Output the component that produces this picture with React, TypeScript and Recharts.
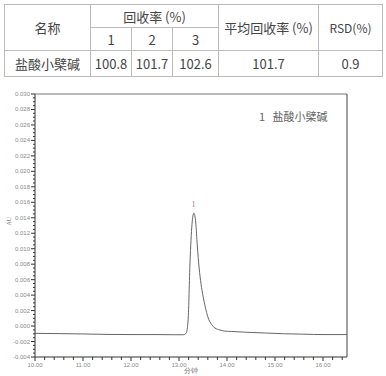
import React from 'react';
import { LineChart, Line, XAxis, YAxis, ReferenceLine, ReferenceDot, Label } from 'recharts';

// recovery table
const sampleName = '盐酸小檗碱';
const recoveries = ['100.8', '101.7', '102.6'];
const meanRecovery = '101.7';
const rsd = '0.9';

// chromatogram, retention time (min) vs absorbance (AU)
const times = [
  10.0, 10.5, 11.0, 11.5, 12.0, 12.5, 12.9, 13.1, 13.15, 13.19, 13.23, 13.27, 13.31, 13.35, 13.38,
  13.42, 13.46, 13.5, 13.55, 13.6, 13.68, 13.75, 13.85, 13.95, 14.1, 14.4, 14.8, 15.2, 15.6, 16.0, 16.5,
];
const absorbance = [
  -0.00094, -0.00098, -0.00102, -0.00108, -0.0011, -0.0011, -0.00112, -0.00112, -0.0009, 0.0008,
  0.0083, 0.0131, 0.0146, 0.0133, 0.0105, 0.0075, 0.0054, 0.0039, 0.0024, 0.0012, 0.0002, -0.00026,
  -0.0005, -0.00065, -0.0007, -0.0008, -0.0009, -0.001, -0.00105, -0.0011, -0.0011,
];
const peakTime = 13.3;
const peakValue = 0.0147;
const peakLabel = '1';

const xTicks = [10, 10.2, 10.4, 10.6, 10.8, 11, 11.2, 11.4, 11.6, 11.8, 12, 12.2, 12.4, 12.6, 12.8, 13,
  13.2, 13.4, 13.6, 13.8, 14, 14.2, 14.4, 14.6, 14.8, 15, 15.2, 15.4, 15.6, 15.8, 16, 16.2, 16.4];
const yTicks: number[] = [];
for (let i = -8; i <= 60; i++) yTicks.push(i / 2000);

const data = times.map((t, i) => ({ t, v: absorbance[i] }));

const axisColor = '#333';
const tickText = '#888';

const XTick = (props: any) => {
  const { x, y, payload } = props;
  const major = Math.abs(payload.value - Math.round(payload.value)) < 1e-6;
  return (
    <g>
      <line x1={x} x2={x} y1={y} y2={y + (major ? 4 : 3)} stroke={axisColor} />
      {major && (
        <text x={x} y={y + 10} textAnchor="middle" fontSize={6} fill={tickText} fontFamily="Arial, sans-serif">
          {payload.value.toFixed(2)}
        </text>
      )}
    </g>
  );
};

const YTick = (props: any) => {
  const { x, y, payload } = props;
  const i = Math.round(payload.value * 2000);
  const major = i % 4 === 0;
  return (
    <g>
      <line x1={x - (major ? 4 : 2)} x2={x} y1={y} y2={y} stroke={axisColor} />
      {major && (
        <text x={x - 5} y={y + 2} textAnchor="end" fontSize={6} fill={tickText} fontFamily="Arial, sans-serif">
          {(i / 2000).toFixed(3)}
        </text>
      )}
    </g>
  );
};

const cell: React.CSSProperties = {
  border: '1px solid #bbb',
  textAlign: 'center',
  padding: 0,
  fontWeight: 'normal',
};

export default function App() {
  return (
    <div style={{ position: 'absolute', left: 0, top: 0, width: 386, height: 376, background: '#fff' }}>
      <table
        style={{
          position: 'absolute',
          left: 4,
          top: 4,
          borderCollapse: 'collapse',
          fontFamily: '"Noto Sans CJK SC", sans-serif',
          fontSize: 13,
          color: '#444',
          tableLayout: 'fixed',
          width: 378,
        }}
      >
        <colgroup>
          <col style={{ width: 86 }} />
          <col style={{ width: 41 }} />
          <col style={{ width: 41 }} />
          <col style={{ width: 46 }} />
          <col style={{ width: 100 }} />
          <col style={{ width: 64 }} />
        </colgroup>
        <tbody>
          <tr style={{ height: 23 }}>
            <td style={cell} rowSpan={2}>名称</td>
            <td style={cell} colSpan={3}>回收率 (%)</td>
            <td style={cell} rowSpan={2}>平均回收率 (%)</td>
            <td style={{ ...cell, fontSize: 12 }} rowSpan={2}>RSD(%)</td>
          </tr>
          <tr style={{ height: 23 }}>
            {['1', '2', '3'].map((n) => (
              <td key={n} style={cell}>{n}</td>
            ))}
          </tr>
          <tr style={{ height: 26 }}>
            <td style={cell}>{sampleName}</td>
            {recoveries.map((r) => (
              <td key={r} style={cell}>{r}</td>
            ))}
            <td style={cell}>{meanRecovery}</td>
            <td style={cell}>{rsd}</td>
          </tr>
        </tbody>
      </table>

      <div style={{ position: 'absolute', left: 0, top: 0 }}>
        <LineChart width={386} height={376} data={data} margin={{ top: 94, right: 39, bottom: 0, left: 0 }}>
          <XAxis
            dataKey="t"
            type="number"
            domain={[10, 16.5]}
            ticks={xTicks}
            interval={0}
            height={19}
            stroke={axisColor}
            tickLine={false}
            tickSize={0}
            tickMargin={0}
            tick={<XTick />}
          >
            <Label value="分钟" position="insideBottom" offset={3} fontSize={7} fill="#777" />
          </XAxis>
          <YAxis
            type="number"
            domain={[-0.004, 0.03]}
            ticks={yTicks}
            interval={0}
            width={35}
            stroke={axisColor}
            tickLine={false}
            tickSize={0}
            tickMargin={0}
            tick={<YTick />}
          >
            <Label value="AU" angle={-90} position="insideLeft" offset={9} fontSize={6} fill="#777" />
          </YAxis>
          <ReferenceLine y={0.03} stroke="#777" />
          <ReferenceLine x={16.5} stroke="#444" />
          <Line
            type="monotone"
            dataKey="v"
            stroke="#666"
            strokeWidth={1}
            dot={false}
            isAnimationActive={false}
          />
          <ReferenceDot x={peakTime} y={peakValue} r={0} fill="none" stroke="none">
            <Label value={peakLabel} position="top" offset={5} fontSize={8} fill="#888" />
          </ReferenceDot>
        </LineChart>
      </div>

      <div
        style={{
          position: 'absolute',
          left: 259,
          top: 108,
          fontFamily: '"Noto Sans CJK SC", sans-serif',
          fontSize: 11,
          color: '#666',
          whiteSpace: 'nowrap',
        }}
      >
        1&nbsp;&nbsp;&nbsp;{sampleName}
      </div>
    </div>
  );
}
